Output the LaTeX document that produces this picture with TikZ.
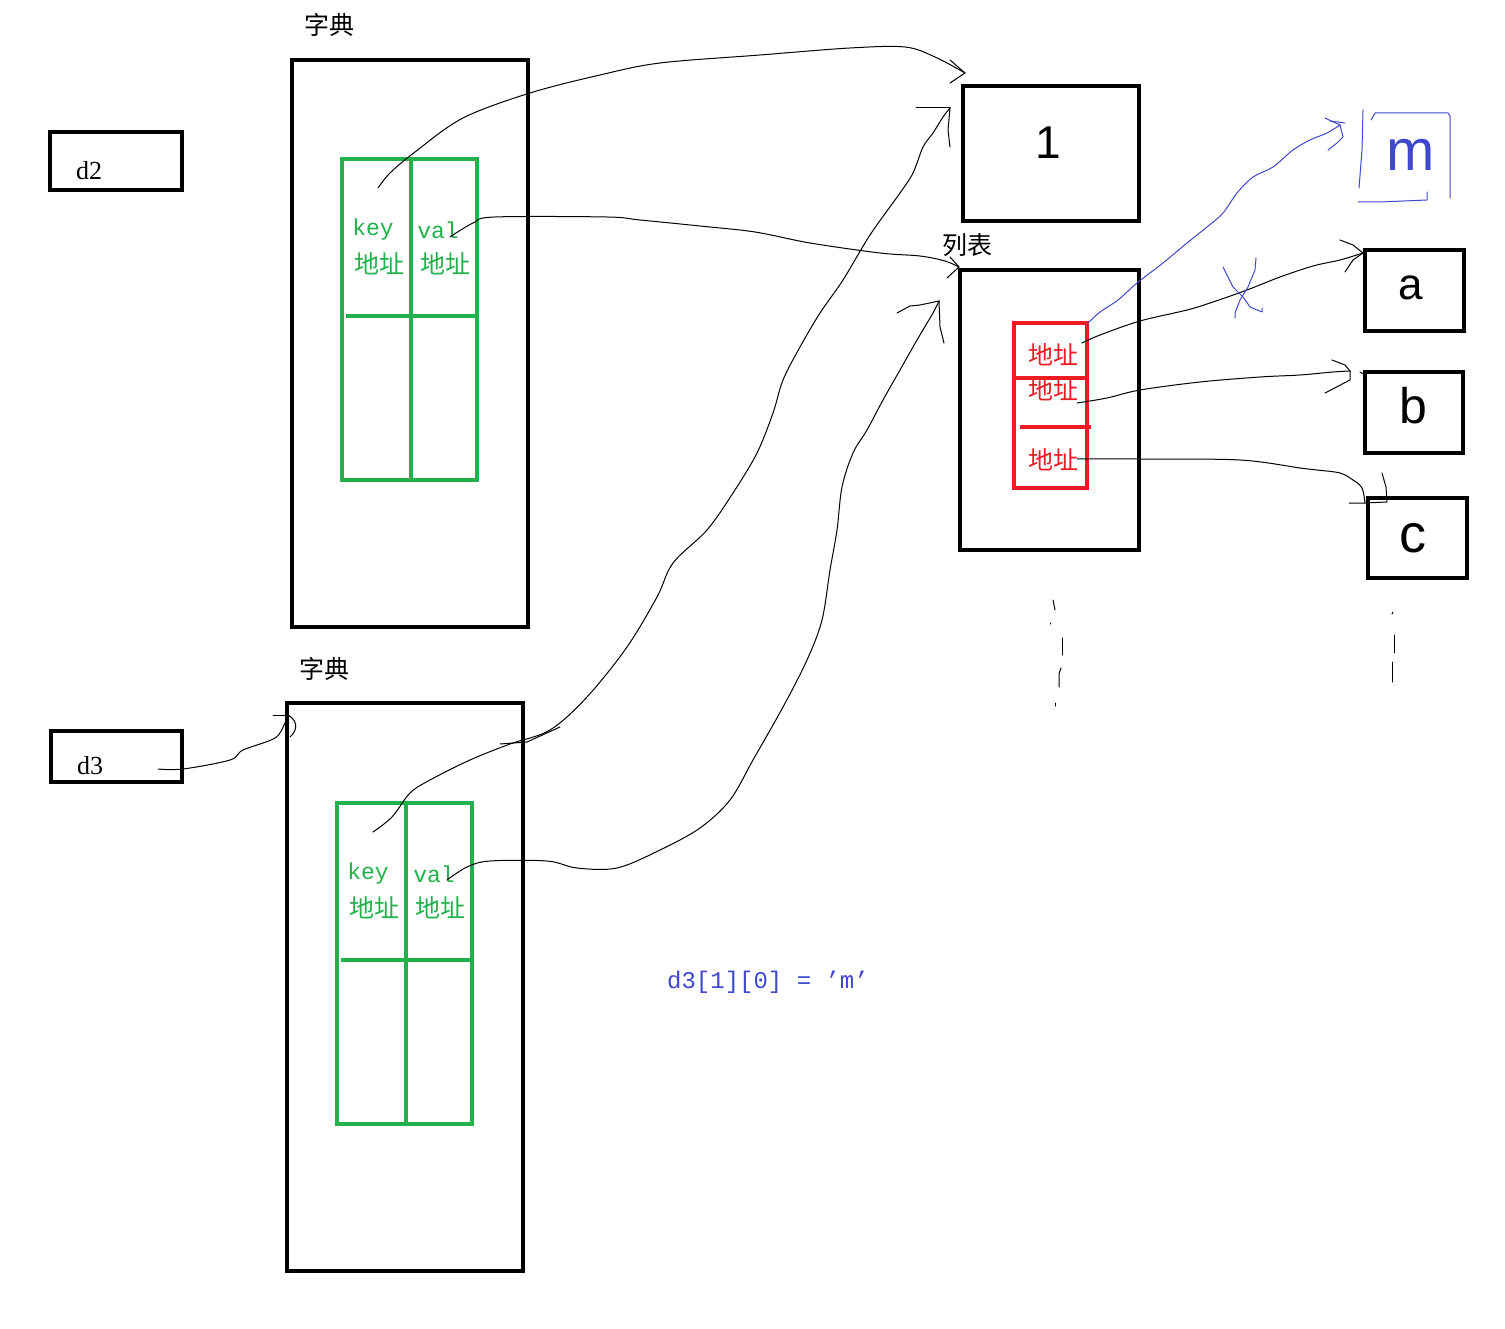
\documentclass[tikz,border=0pt]{standalone}
\usepackage{fontspec}
\setmainfont{Liberation Serif}
\newfontfamily\cjkf{Noto Sans CJK SC}
\newfontfamily\monof{Liberation Mono}
\newfontfamily\handf{Liberation Sans}
\definecolor{pgreen}{HTML}{22B14C}
\definecolor{pred}{HTML}{ED1C24}
\definecolor{pblue}{HTML}{3F48CC}
\begin{document}
\begin{tikzpicture}[x=1pt,y=-1pt,
  every node/.style={inner sep=0pt,outer sep=0pt},
  blk/.style={draw=black,line width=4.8pt},
  grn/.style={draw=pgreen,line width=4pt},
  rd/.style={draw=pred,line width=4.3pt},
  conn/.style={black,line width=1pt,line join=round,line cap=round},
  bconn/.style={pblue,line width=1pt,line join=round,line cap=round},
  title/.style={font=\cjkf\fontsize{25}{25}\selectfont},
  gk/.style={text=pgreen,font=\monof\fontsize{23}{23}\selectfont},
  gz/.style={text=pgreen,font=\cjkf\fontsize{25}{25}\selectfont},
  rz/.style={text=pred,font=\cjkf\fontsize{25}{25}\selectfont},
  var/.style={font=\fontsize{26}{26}\selectfont},
  hand/.style={font=\handf\fontsize{#1}{#1}\selectfont},
]
\fill[white] (0,0) rectangle (1505,1329);
\path[use as bounding box] (0,0) rectangle (1505,1329);

% variable boxes
\node[blk,minimum width=132,minimum height=58] (d2) at (116,161) {};
\node[var] (d2t) at (89,171) {d2};
\node[blk,minimum width=131,minimum height=51] (d3) at (116.5,756.5) {};
\node[var] (d3t) at (90,766) {d3};

% dictionary A
\node[title] (tA) at (329,25) {字典};
\node[blk,minimum width=236,minimum height=567] (dA) at (410,343.5) {};
\node[grn,minimum width=135,minimum height=321] (gA) at (409.5,319.5) {};
\draw[grn] (411,159) -- (411,480);
\draw[grn] (346,316) -- (479,316);
\node[gk] (kA) at (373,230) {key};
\node[gk] (vA) at (438,230) {val};
\node[gz] (kAz) at (379,264) {地址};
\node[gz] (vAz) at (445,264) {地址};

% dictionary B
\node[title] (tB) at (324,669) {字典};
\node[blk,minimum width=236,minimum height=568] (dB) at (405,987) {};
\node[grn,minimum width=135,minimum height=321] (gB) at (404.5,963.5) {};
\draw[grn] (406,803) -- (406,1124);
\draw[grn] (341,960) -- (474,960);
\node[gk] (kB) at (368,874) {key};
\node[gk] (vB) at (434,874) {val};
\node[gz] (kBz) at (374,908) {地址};
\node[gz] (vBz) at (440,908) {地址};

% key object 1
\node[blk,minimum width=176,minimum height=135] (box1) at (1051,153.5) {};
\node[hand=46] (one) at (1048,143) {1};

% list
\node[title] (tL) at (967,245) {列表};
\node[blk,minimum width=179,minimum height=280] (lst) at (1049.5,410) {};
\node[rd,minimum width=73,minimum height=165] (red) at (1050.5,405.5) {};
\draw[rd] (1014,378) -- (1087,378);
\draw[rd] (1020,427) -- (1091,427);
\node[rz] (r1) at (1053,355) {地址};
\node[rz] (r2) at (1053,390) {地址};
\node[rz] (r3) at (1053,460) {地址};

% element objects
\node[blk,minimum width=99,minimum height=81] (ba) at (1414.5,290.5) {};
\node[hand=44] (at) at (1411,288) {a};
\node[blk,minimum width=98,minimum height=81] (bb) at (1414,412.5) {};
\node[hand=50] (bt) at (1413,406) {b};
\node[blk,minimum width=99,minimum height=80] (bc) at (1417.5,538) {};
\node[hand=54] (ct) at (1413,538) {c};

% hand-drawn blue box with m
\draw[bconn] (1363,110) -- (1362,150) -- (1359,188);
\draw[bconn] (1371,120) -- (1375,113) -- (1448,113) -- (1450,116) -- (1450,198);
\draw[bconn] (1358,202) -- (1380,202) -- (1427,200) -- (1427,192);
\node[hand=58,text=pblue] (mt) at (1411,155) {m};

% assignment text
\node[text=pblue,font=\monof\fontsize{24}{24}\selectfont] (asg) at (768,982) {d3[1][0] = ’m’};

% vertical ellipsis marks
\draw[conn] (1053,600) -- (1055,610);
\draw[conn] (1050,623) -- (1050,624);
\draw[conn] (1062,638) -- (1062,655);
\draw[conn] (1061,668) -- (1059,674) -- (1059,687);
\draw[conn] (1055,703) -- (1055,706);
\draw[conn] (1393,612) -- (1392,614);
\draw[conn] (1394,635) -- (1394,653);
\draw[conn] (1392,662) -- (1392,682);

% ---- connectors ----
% dict A key -> 1
\coordinate (sA1) at (378,188);
\coordinate (eA1) at ([shift={(2,-13)}]box1.north west);
\draw[conn] plot[smooth,tension=0.55] coordinates {(sA1) (390,173) (415,152) (463,118) (530,93) (600,75) (660,63) (760,55) (850,48) (905,47) (935,57) (eA1)};
\draw[conn] (eA1) -- (950,60);
\draw[conn] (eA1) -- (950,83);

% dict A val -> list
\coordinate (sA2) at (450,237);
\coordinate (eA2) at ([shift={(-1,-3)}]lst.north west);
\draw[conn] plot[smooth,tension=0.55] coordinates {(sA2) (473,223) (495,217) (607,217) (640,220) (700,226) (755,232) (810,243) (880,253) (920,256) (945,261) (eA2)};
\draw[conn] (eA2) -- (950,257);
\draw[conn] (eA2) -- (947,278);

% d3 -> dict B
\coordinate (sD3) at (158,769);
\coordinate (eD3) at ([shift={(1,12)}]dB.north west);
\draw[conn] plot[smooth,tension=0.55] coordinates {(sD3) (183,769) (230,760) (243,750) (275,738) (285,723) (eD3)};
\draw[conn] (273,715) -- (eD3);
\draw[conn] (eD3) .. controls (300,722) and (296,732) .. (290,737);

% dict B key -> 1
\coordinate (sB1) at (373,832);
\coordinate (eB1) at ([shift={(-13,22)}]box1.north west);
\draw[conn] plot[smooth,tension=0.55] coordinates {(sB1) (392,817) (410,793) (430,780) (470,760) (510,744) (550,730) (587,697) (627,647) (657,597) (673,563) (707,530) (733,493) (757,453) (773,413) (783,380) (800,347) (820,313) (843,280) (870,235) (900,193) (913,173) (923,147) (933,133) (943,117) (eB1)};
\draw[conn] (916,108) -- (eB1);
\draw[conn] (eB1) -- (948,130) -- (950,147);
\draw[conn] (500,744) -- (527,742) -- (560,727);

% dict B val -> list
\coordinate (sB2) at (447,880);
\coordinate (eB2) at ([shift={(-21,31)}]lst.north west);
\draw[conn] plot[smooth,tension=0.55] coordinates {(sB2) (467,867) (490,861) (547,861) (577,868) (617,868) (660,850) (700,828) (730,800) (753,760) (783,707) (807,660) (822,620) (830,570) (837,530) (842,487) (853,453) (867,430) (883,400) (900,370) (917,340) (933,313) (eB2)};
\draw[conn] (897,313) -- (910,306) -- (920,305) -- (eB2);
\draw[conn] (eB2) -- (940,327) -- (944,343);

% list slot 1 -> a
\coordinate (sR1) at (1082,343);
\coordinate (eR1) at ([shift={(-2,3)}]ba.north west);
\draw[conn] plot[smooth,tension=0.55] coordinates {(sR1) (1100,335) (1140,321) (1187,310) (1213,302) (1247,290) (1280,277) (1313,266) (1340,260) (eR1)};
\draw[conn] (eR1) -- (1353,245) -- (1340,240);
\draw[conn] (eR1) -- (1353,260) -- (1345,272);

% blue cross
\draw[bconn] (1223,267) -- (1233,287) -- (1243,297) -- (1250,307) -- (1262,312) -- (1262,308);
\draw[bconn] (1256,258) -- (1255,270) -- (1248,287) -- (1240,300) -- (1235,313) -- (1235,318);

% list slot 1 -> m (blue)
\coordinate (sM) at (1088,323);
\coordinate (eM) at (1340,125);
\draw[bconn] plot[smooth,tension=0.55] coordinates {(sM) (1100,312) (1118,300) (1137,283) (1163,263) (1187,243) (1207,227) (1223,213) (1237,193) (1253,177) (1273,167) (1293,150) (1310,140) (1327,133) (eM)};
\draw[bconn] (eM) -- (1325,118);
\draw[bconn] (1330,121) -- (1345,123);
\draw[bconn] (eM) -- (1343,137) -- (1337,143) -- (1328,150);

% list slot 2 -> b
\coordinate (sR2) at (1077,403);
\coordinate (eR2) at ([shift={(-15,-1)}]bb.north west);
\draw[conn] plot[smooth,tension=0.55] coordinates {(sR2) (1107,398) (1140,390) (1200,382) (1260,377) (1300,375) (1333,372) (eR2)};
\draw[conn] (eR2) -- (1345,365) -- (1332,360);
\draw[conn] (eR2) -- (1350,380) -- (1325,393);
\draw[conn] (1360,372) -- (1365,375);

% list slot 3 -> c
\coordinate (sR3) at (1077,459);
\coordinate (eR3) at ([shift={(-3,5)}]bc.north west);
\draw[conn] plot[smooth,tension=0.55] coordinates {(sR3) (1140,459) (1240,460) (1300,468) (1317,470) (1340,473) (1353,480) (1362,488) (eR3)};
\draw[conn] (1349,503) -- (eR3) -- (1387,502) -- (1386,487) -- (1382,473);
\end{tikzpicture}
\end{document}
